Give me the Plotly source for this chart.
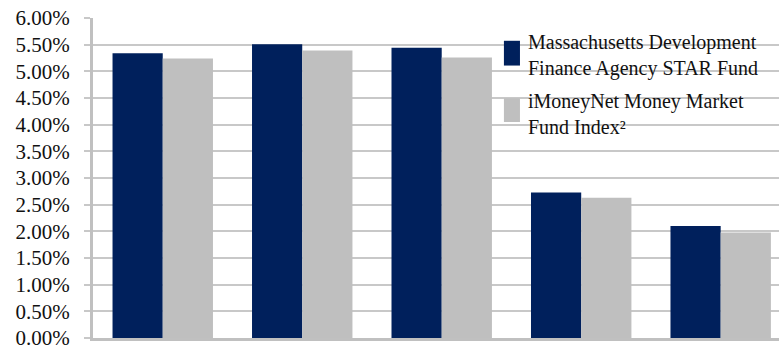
import plotly.graph_objects as go

categories = ["Period 1", "Period 2", "Period 3", "Period 4", "Period 5"]
star_fund = [5.34, 5.51, 5.44, 2.73, 2.10]
imoneynet = [5.24, 5.39, 5.26, 2.63, 1.98]
series_names = ["Massachusetts Development<br>Finance Agency STAR Fund",
                "iMoneyNet Money Market<br>Fund Index²"]
series_colors = ["#00205c", "#bfbfbf"]
tick_vals = [0, 0.5, 1, 1.5, 2, 2.5, 3, 3.5, 4, 4.5, 5, 5.5, 6]
tick_text = ["0.00%", "0.50%", "1.00%", "1.50%", "2.00%", "2.50%", "3.00%",
             "3.50%", "4.00%", "4.50%", "5.00%", "5.50%", "6.00%"]

FONT = "Liberation Serif, Times New Roman, serif"
TXT = "#111111"

fig = go.Figure()
for vals, name, col in zip([star_fund, imoneynet], series_names, series_colors):
    fig.add_trace(go.Bar(x=categories, y=vals, name=name.replace("<br>", " "),
                         marker=dict(color=col, line=dict(width=0))))

# legend drawn as colour boxes + text (transparent, overlapping plot as in reference)
legend_boxes = [(0.599, 0.6224, 0.8514, 0.9288), (0.599, 0.6224, 0.675, 0.749)]
legend_text_y = [0.884, 0.701]
for (x0, x1, y0, y1), col, name, ty in zip(legend_boxes, series_colors, series_names, legend_text_y):
    fig.add_shape(type="rect", xref="paper", yref="paper", x0=x0, x1=x1, y0=y0, y1=y1,
                  fillcolor=col, line=dict(width=0))
    fig.add_annotation(xref="paper", yref="paper", x=0.6312, y=ty, xanchor="left",
                       yanchor="middle", align="left", showarrow=False, text=name,
                       font=dict(family=FONT, size=20, color=TXT))

fig.update_layout(
    width=779, height=350,
    margin=dict(l=93, r=0, t=18, b=9, pad=0),
    paper_bgcolor="white", plot_bgcolor="white",
    barmode="group", bargap=0.28, bargroupgap=0,
    font=dict(family=FONT, size=20, color=TXT),
    showlegend=False,
    xaxis=dict(range=[-0.5, 4.418], showticklabels=False, ticks="",
               showgrid=False, showline=True, linecolor="#c0c0c0", linewidth=3,
               zeroline=False),
    yaxis=dict(range=[0, 6], tickvals=tick_vals, ticktext=tick_text,
               showgrid=True, gridcolor="#c8c8c8", gridwidth=2,
               showline=True, linecolor="#c0c0c0", linewidth=3,
               ticks="outside", ticklen=6, tickcolor="#c8c8c8", tickwidth=2,
               ticklabelstandoff=10, ticklabeloverflow="allow",
               zeroline=False, tickfont=dict(family=FONT, size=21, color=TXT)),
)

fig.write_html("out.html")
